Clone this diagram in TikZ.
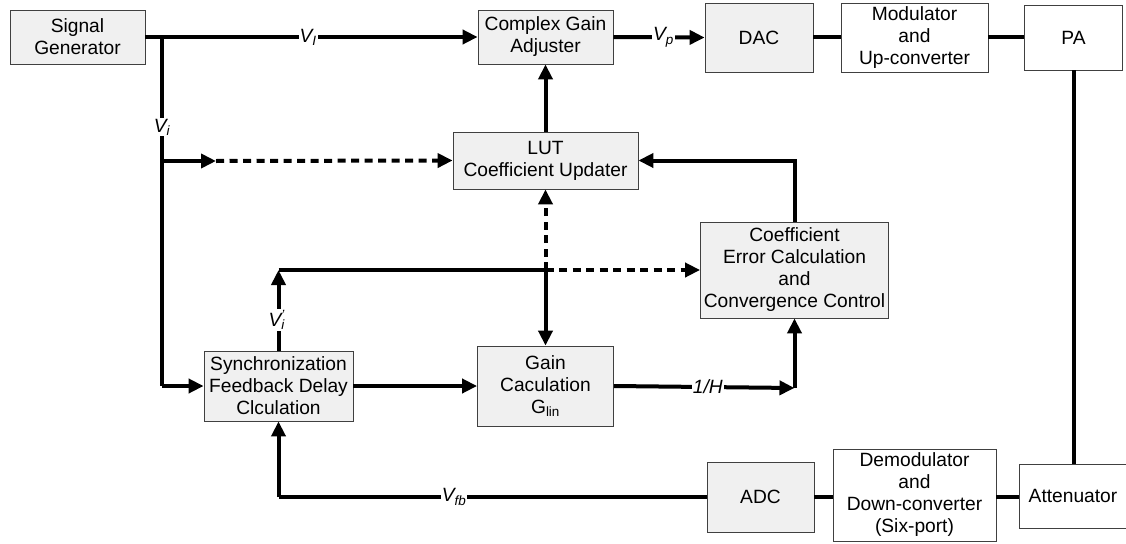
\documentclass[tikz,border=0pt]{standalone}
\usepackage{fontspec}
\setmainfont{Liberation Sans}
\usetikzlibrary{arrows.meta}
\begin{document}
\begin{tikzpicture}[x=1pt,y=-1pt,
  box/.style={draw=black!75,line width=0.8pt,fill=black!6,align=center,inner sep=0pt,
    font=\fontsize{19.2}{22}\selectfont},
  wbox/.style={box,fill=white},
  wire/.style={line width=4pt},
  arr/.style={wire,-{Triangle[length=15pt,width=14pt]}},
  dwire/.style={wire,dash pattern=on 8pt off 5.5pt},
  darr/.style={dwire,-{Triangle[length=15pt,width=14pt]}},
  lbl/.style={fill=white,inner sep=1pt,font=\fontsize{19.2}{22}\selectfont\itshape}]
\useasboundingbox (0,0) rectangle (1126,543);
% boxes
\node[box,minimum width=135pt,minimum height=54pt] (sg) at (77.5,37) {Signal\\Generator};
\node[box,minimum width=135pt,minimum height=54pt] (cga) at (545.5,37) {Complex Gain\\Adjuster};
\node[box,minimum width=108pt,minimum height=69pt] (dac) at (759,37.5) {DAC};
\node[wbox,minimum width=147pt,minimum height=69pt] (mod) at (914.5,37.5) {Modulator\\and\\Up-converter};
\node[wbox,minimum width=98pt,minimum height=65pt] (pa) at (1073.5,37.5) {PA};
\node[box,minimum width=185pt,minimum height=57pt] (lut) at (545.5,160.5) {LUT\\Coefficient Updater};
\node[box,minimum width=188pt,minimum height=96pt] (coef) at (794.5,270) {Coefficient\\Error Calculation\\and\\Convergence Control};
\node[box,minimum width=149pt,minimum height=70pt] (sync) at (278.5,386) {Synchronization\\Feedback Delay\\Clculation};
\node[box,minimum width=136pt,minimum height=80pt] (gain) at (545.5,386) {Gain\\Caculation\\G\textsubscript{lin}};
\node[box,minimum width=107pt,minimum height=70pt] (adc) at (760.5,497) {ADC};
\node[wbox,minimum width=163pt,minimum height=92pt] (demod) at (914.5,495) {Demodulator\\and\\Down-converter\\(Six-port)};
\node[wbox,minimum width=108pt,minimum height=64pt] (att) at (1073,496) {Attenuator};
% coordinates
\coordinate (b1) at (162,37);
\coordinate (b2) at (162,161);
\coordinate (b2a) at (216,161);
\coordinate (c1) at (278.5,270);
\coordinate (c2) at (545.5,270);
\coordinate (h1) at (794.5,388);
\coordinate (f1) at (278.5,497);
% connectors
\draw[arr] (sg.east) -- node[lbl,pos=0.49]{V\textsubscript{I}} (cga.west);
\draw[wire] (b1) -- (b1 |- sync.west);
\node[lbl] (vi) at (162,127) {V\textsubscript{i}};
\draw[arr] (b1 |- sync.west) -- (sync.west);
\draw[arr] (b2) -- (b2a);
\draw[darr] (b2a) -- (lut.west);
\draw[arr] (cga.east) -- node[lbl,pos=0.55]{V\textsubscript{p}} (dac.west);
\draw[wire] (dac.east) -- (mod.west);
\draw[wire] (mod.east) -- (pa.west);
\draw[wire] (pa.south) -- (pa.south |- att.north);
\draw[arr] (lut.north) -- (cga.south);
\draw[arr] (coef.north) |- (lut.east);
\draw[arr] (sync.north) -- node[lbl,pos=0.38]{V\rlap{\textsubscript{i}}\textsuperscript{'}\hphantom{\textsubscript{i}}} (c1);
\draw[wire] (c1) -- (c2);
\draw[darr] (c2) -- (coef.west);
\draw[arr] (c2) -- (gain.north);
\draw[darr] (c2) -- (lut.south);
\draw[arr] (sync.east) -- (gain.west);
\draw[arr] (gain.east) -- node[lbl,pos=0.52]{1/H} (h1);
\draw[arr] (h1) -- (coef.south);
\draw[wire] (adc.west) -- node[lbl,pos=0.59]{V\textsubscript{fb}} (f1);
\draw[arr] (f1) -- (sync.south);
\draw[wire] (adc.east) -- (demod.west |- adc.east);
\draw[wire] (demod.east |- adc.east) -- (att.west |- adc.east);
\end{tikzpicture}
\end{document}
